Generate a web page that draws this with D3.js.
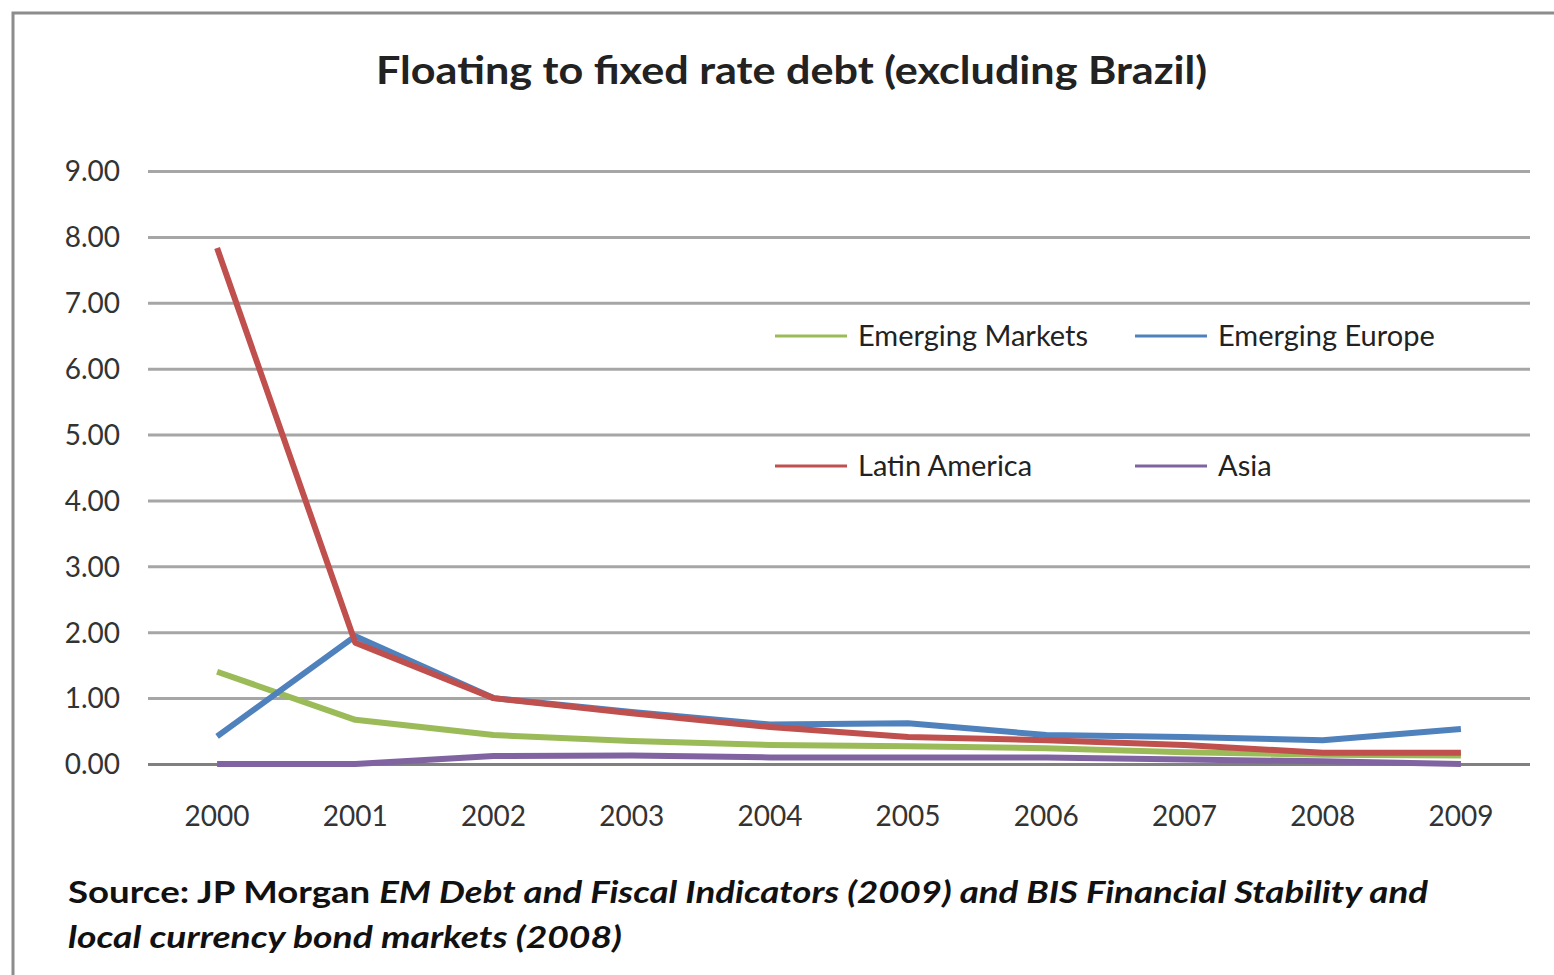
<!DOCTYPE html>
<html lang="en">
<head>
	<meta charset="UTF-8">
	<title>Floating to fixed rate debt</title>
	<style>
		* {padding:0; margin:0;}
		body {background:#fff;}
		#chart text {font-family:Lato, "Open Sans", sans-serif;}
		.grid line {stroke:#a6a6a6; stroke-width:3px;}
		.tick text {fill:#333; font-size:28px;}
		.series {fill:none; stroke-width:6px; stroke-linejoin:round;}
	</style>
</head>
<body>
<script src="https://d3js.org/d3.v7.min.js"></script>
<svg id="chart" width="1554" height="975"></svg>
<script>
// data
var years = ["2000","2001","2002","2003","2004","2005","2006","2007","2008","2009"];
var emergingMarkets = [1.40, 0.67, 0.44, 0.35, 0.29, 0.27, 0.24, 0.18, 0.14, 0.13];
var emergingEurope  = [0.42, 1.94, 1.00, 0.79, 0.60, 0.62, 0.44, 0.41, 0.36, 0.53];
var latinAmerica    = [7.83, 1.84, 1.00, 0.77, 0.56, 0.41, 0.36, 0.29, 0.17, 0.17];
var asia            = [0.00, 0.00, 0.12, 0.13, 0.10, 0.10, 0.10, 0.07, 0.04, 0.00];
var yTicks = [0,1,2,3,4,5,6,7,8,9];

var series = [
	{name:"Emerging Markets", values:emergingMarkets, color:"#9bbb59"},
	{name:"Emerging Europe", values:emergingEurope, color:"#4f81bd"},
	{name:"Latin America", values:latinAmerica, color:"#c0504d"},
	{name:"Asia", values:asia, color:"#8064a2"}
];

var svg = d3.select("#chart");
var plotLeft = 148, plotRight = 1530, plotTop = 171, plotBottom = 764;

var x = d3.scaleBand().domain(years).range([plotLeft, plotRight]);
var y = d3.scaleLinear().domain([0, 9]).range([plotBottom, plotTop]);

// frame (left and top only visible)
svg.append("path")
	.attr("d", "M13,975 L13,13 L1554,13")
	.attr("fill", "none").attr("stroke", "#8c8c8c").attr("stroke-width", 3);

// title
svg.append("text")
	.attr("x", 376).attr("y", 84)
	.attr("textLength", 831).attr("lengthAdjust", "spacingAndGlyphs")
	.attr("font-size", 39).attr("font-weight", "bold").attr("fill", "#222")
	.text("Floating to fixed rate debt (excluding Brazil)");

// gridlines + y labels
var yAxis = svg.append("g").attr("class", "grid")
	.attr("transform", "translate(" + plotLeft + ",0)")
	.call(d3.axisLeft(y).tickValues(yTicks).tickSize(-(plotRight - plotLeft)).tickPadding(28)
		.tickFormat(d3.format(".2f")));
yAxis.select(".domain").remove();
yAxis.selectAll(".tick line").filter(function(d){ return d === 0; }).style("stroke", "#808080");
yAxis.selectAll(".tick text").attr("dy", "0.35em");

// x labels
var xAxis = svg.append("g")
	.attr("transform", "translate(0," + plotBottom + ")")
	.call(d3.axisBottom(x).tickSize(0).tickPadding(42));
xAxis.select(".domain").remove();

// lines
var line = d3.line()
	.x(function(d, i){ return x(years[i]) + x.bandwidth() / 2; })
	.y(function(d){ return y(d); });

svg.selectAll(".series")
	.data(series)
	.enter()
	.append("path")
	.attr("class", "series")
	.attr("stroke", function(d){ return d.color; })
	.attr("d", function(d){ return line(d.values); });

// legend
var legendPos = [[775, 336], [1135, 336], [775, 466], [1135, 466]];
var legend = svg.selectAll(".legend")
	.data(series)
	.enter()
	.append("g")
	.attr("transform", function(d, i){ return "translate(" + legendPos[i][0] + "," + legendPos[i][1] + ")"; });
legend.append("line")
	.attr("x1", 0).attr("x2", 72).attr("y1", 0).attr("y2", 0)
	.attr("stroke", function(d){ return d.color; }).attr("stroke-width", 3);
legend.append("text")
	.attr("x", 83).attr("dy", "0.35em")
	.attr("font-size", 29).attr("fill", "#222")
	.text(function(d){ return d.name; });

// source note
var src = svg.append("text")
	.attr("x", 68).attr("y", 903)
	.attr("textLength", 1360).attr("lengthAdjust", "spacingAndGlyphs")
	.attr("font-size", 31).attr("font-weight", "bold").attr("fill", "#111");
src.append("tspan").text("Source: JP Morgan ");
src.append("tspan").attr("font-style", "italic")
	.text("EM Debt and Fiscal Indicators (2009) and BIS Financial Stability and");
svg.append("text")
	.attr("x", 68).attr("y", 948)
	.attr("textLength", 554).attr("lengthAdjust", "spacingAndGlyphs")
	.attr("font-size", 31).attr("font-weight", "bold").attr("font-style", "italic").attr("fill", "#111")
	.text("local currency bond markets (2008)");
</script>
</body>
</html>
